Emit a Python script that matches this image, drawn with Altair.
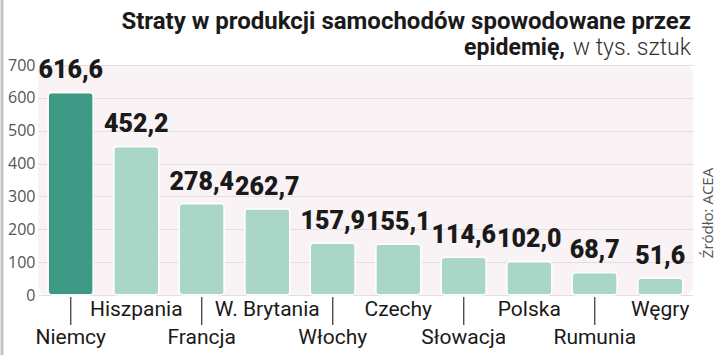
import altair as alt
import pandas as pd

countries = ["Niemcy", "Hiszpania", "Francja", "W. Brytania", "Włochy",
             "Czechy", "Słowacja", "Polska", "Rumunia", "Węgry"]
losses = [616.6, 452.2, 278.4, 262.7, 157.9, 155.1, 114.6, 102.0, 68.7, 51.6]
highlight = "Niemcy"
y_ticks = [0, 100, 200, 300, 400, 500, 600, 700]

title_line1 = "Straty w produkcji samochodów spowodowane przez"
title_line2_bold = "epidemię,"
title_line2_rest = "w tys. sztuk"
source_text = "Źródło: ACEA"

W, H = 655, 230

df = pd.DataFrame({
    "country": countries,
    "value": losses,
    "label": [f"{v:.1f}".replace(".", ",") for v in losses],
    "row": [i % 2 for i in range(len(countries))],
})

xscale = alt.Scale(domain=countries, paddingInner=0.31, paddingOuter=0.155)
x = alt.X("country:N", scale=xscale, axis=None, sort=countries)
yscale = alt.Scale(domain=[0, 700])
yaxis = alt.Axis(values=y_ticks, title=None, domain=False, ticks=False,
                 labelOverlap=False, labelFlush=False,
                 labelFont="Open Sans", labelFontSize=16, labelColor="#555555",
                 labelPadding=3, gridColor="#e6dde2", gridWidth=1)
y = alt.Y("value:Q", scale=yscale, axis=yaxis)

base = alt.Chart(df)

bars = base.mark_bar(cornerRadius=4, stroke="white", strokeWidth=1.5).encode(
    x=x, y=y,
    color=alt.condition(alt.datum.country == highlight,
                        alt.value("#3f9a85"), alt.value("#a9d6c6")),
)

values = base.mark_text(baseline="bottom", dy=-9, font="Roboto", fontWeight=900,
                        fontSize=25, color="#1a1a1a").encode(
    x=x, y=y, text="label:N")

ticks = base.transform_filter(alt.datum.row == 0).mark_rule(
    color="#333333", strokeWidth=1.2).encode(
    x=x, y=alt.value(H + 2), y2=alt.value(H + 30))

lab_lo = base.transform_filter(alt.datum.row == 0).mark_text(
    baseline="middle", font="Roboto", fontSize=21, color="#1a1a1a").encode(
    x=x, y=alt.value(H + 43), text="country:N")
lab_hi = base.transform_filter(alt.datum.row == 1).mark_text(
    baseline="middle", font="Roboto", fontSize=21, color="#1a1a1a").encode(
    x=x, y=alt.value(H + 15), text="country:N")

t1 = alt.Chart(pd.DataFrame({"t": [title_line1]})).mark_text(
    align="right", baseline="alphabetic", font="Roboto", fontWeight="bold",
    fontSize=24, color="#1a1a1a").encode(x=alt.value(653), y=alt.value(-36), text="t:N")
t2 = alt.Chart(pd.DataFrame({"t": [title_line2_bold]})).mark_text(
    align="right", baseline="alphabetic", font="Roboto", fontWeight="bold",
    fontSize=23, color="#1a1a1a").encode(x=alt.value(527), y=alt.value(-10), text="t:N")
t3 = alt.Chart(pd.DataFrame({"t": [title_line2_rest]})).mark_text(
    align="right", baseline="alphabetic", font="Roboto", fontWeight=300,
    fontSize=23, color="#333333").encode(x=alt.value(653), y=alt.value(-10), text="t:N")

src = alt.Chart(pd.DataFrame({"t": [source_text]})).mark_text(
    angle=270, align="center", baseline="middle", font="Open Sans", fontSize=15,
    color="#555555").encode(x=alt.value(670), y=alt.value(148), text="t:N")

border = alt.Chart(pd.DataFrame({"a": [0]})).mark_rule(
    color="#c4c4c4", strokeWidth=3).encode(x=alt.value(-36), y=alt.value(-65), y2=alt.value(H + 60))

chart = alt.layer(bars, values, ticks, lab_lo, lab_hi, t1, t2, t3, src, border).properties(
    width=W, height=H,
    autosize=alt.AutoSizeParams(type="none"),
    padding={"left": 38, "top": 65, "right": 27, "bottom": 60},
    background="white",
).configure_view(fill="#f9f3f6", cornerRadius=8, strokeWidth=0)

chart.save("out.html", embed_options={"renderer": "svg", "actions": False})
